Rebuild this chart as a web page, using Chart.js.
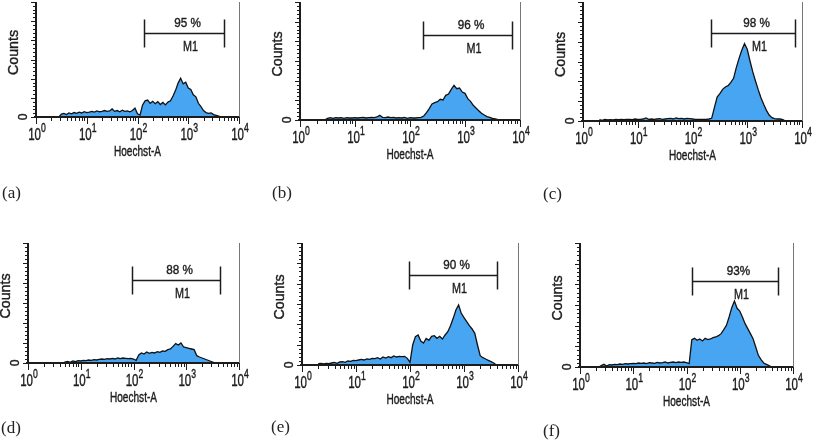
<!DOCTYPE html>
<html>
<head>
<meta charset="utf-8">
<script src="https://cdn.jsdelivr.net/npm/chart.js@4.4.1/dist/chart.umd.min.js"></script>
<style>
	html, body { margin: 0; padding: 0; background: #fff; }
	#figure { position: relative; width: 813px; height: 445px; overflow: hidden; }
	#figure canvas { position: absolute; display: block; }
	.tag { position: absolute; font: 17px "Liberation Serif", "DejaVu Serif", serif; line-height: 17px; color: #222; }
</style>
</head>
<body>
<div id="figure"></div>
<script>
// channel positions on the Hoechst-A axis, in decades (log10 of intensity)
const channels = [
	0.30, 0.35, 0.40, 0.45, 0.50, 0.55, 0.60, 0.65, 0.70, 0.75,
	0.80, 0.85, 0.90, 0.95, 1.00, 1.05, 1.10, 1.15, 1.20, 1.25,
	1.30, 1.35, 1.40, 1.45, 1.50, 1.55, 1.60, 1.65, 1.70, 1.75,
	1.80, 1.85, 1.90, 1.95, 2.00, 2.05, 2.10, 2.15, 2.20, 2.25,
	2.30, 2.35, 2.40, 2.45, 2.50, 2.55, 2.60, 2.65, 2.70, 2.75,
	2.80, 2.85, 2.90, 2.95, 3.00, 3.05, 3.10, 3.15, 3.20, 3.25,
	3.30, 3.35, 3.40, 3.45, 3.50, 3.55, 3.60, 3.65, 3.70, 3.75,
	3.80
];

// counts per channel, one array per sample (a)..(f)
const countsA = [
	0, 0, 0, 0, 7, 9, 6, 10, 8, 11,
	9, 12, 10, 13, 11, 12, 14, 12, 15, 13,
	14, 16, 14, 15, 20, 14, 16, 13, 17, 14,
	15, 13, 16, 22, 8, 5, 30, 40, 42, 34,
	39, 33, 38, 31, 36, 30, 37, 40, 52, 66,
	84, 96, 82, 86, 72, 68, 55, 50, 34, 26,
	16, 11, 9, 10, 6, 4, 2, 0, 0, 0,
	0
];
const countsB = [
	0, 0, 0, 0, 5, 7, 5, 7, 6, 7,
	5, 7, 6, 6, 7, 6, 7, 8, 6, 7,
	8, 7, 9, 14, 8, 7, 9, 7, 8, 6,
	7, 6, 8, 5, 7, 6, 6, 7, 8, 12,
	22, 34, 48, 52, 55, 62, 60, 74, 78, 92,
	104, 94, 96, 84, 80, 64, 56, 44, 36, 28,
	20, 15, 10, 8, 5, 3, 1, 0, 0, 0,
	0
];
const countsC = [
	4, 2, 5, 3, 4, 3, 5, 4, 5, 4,
	5, 5, 4, 6, 5, 5, 6, 9, 5, 6,
	5, 6, 7, 5, 6, 7, 8, 6, 9, 7,
	8, 6, 8, 7, 6, 5, 5, 5, 5, 5,
	6, 8, 40, 72, 82, 95, 102, 106, 116, 128,
	160, 188, 212, 232, 215, 180, 148, 120, 94, 70,
	50, 32, 18, 10, 7, 6, 6, 4, 0, 0,
	0
];
const countsD = [
	0, 0, 0, 0, 0, 0, 0, 0, 3, 5,
	2, 6, 4, 7, 6, 8, 7, 9, 8, 10,
	9, 11, 12, 11, 13, 12, 14, 12, 15, 13,
	15, 14, 13, 14, 12, 8, 24, 30, 27, 33,
	29, 32, 30, 34, 32, 36, 35, 40, 42, 50,
	58, 54, 60, 48, 46, 44, 42, 40, 22, 18,
	15, 12, 9, 6, 3, 0, 0, 0, 0, 0,
	0
];
const countsE = [
	4, 5, 3, 5, 4, 6, 8, 5, 9, 10,
	8, 12, 11, 14, 13, 15, 17, 15, 18, 17,
	20, 19, 22, 18, 24, 21, 25, 22, 27, 24,
	26, 25, 26, 20, 8, 60, 85, 90, 72, 66,
	80, 74, 86, 88, 80, 86, 78, 90, 100, 118,
	140, 165, 180, 155, 142, 130, 118, 108, 95, 60,
	28, 22, 18, 14, 10, 6, 0, 0, 0, 0,
	0
];
const countsF = [
	0, 0, 4, 8, 3, 7, 6, 8, 7, 9,
	8, 10, 9, 10, 11, 10, 12, 11, 12, 10,
	13, 12, 11, 14, 12, 13, 15, 12, 14, 15,
	13, 15, 14, 15, 13, 10, 82, 86, 80, 84,
	78, 86, 82, 84, 88, 90, 94, 100, 112, 125,
	150, 178, 198, 176, 168, 150, 130, 115, 100, 85,
	60, 35, 22, 12, 8, 4, 0, 0, 0, 0,
	0
];

const panelCounts = [ countsA, countsB, countsC, countsD, countsE, countsF ];
const panelTags = [ '(a)', '(b)', '(c)', '(d)', '(e)', '(f)' ];
const gatePercents = [ '95 %', '96 %', '98 %', '88 %', '90 %', '93%' ];
// M1 marker range, in decades
const gateStart = [ 2.12, 2.24, 2.33, 1.98, 1.99, 2.11 ];
const gateEnd = [ 3.70, 3.85, 3.87, 3.64, 3.61, 3.72 ];
const decades = [ 0, 1, 2, 3, 4 ];
const xTitle = 'Hoechst-A';
const yTitle = 'Counts';

( function () {
	'use strict';

	const figure = document.getElementById( 'figure' );
	const sans = '"Liberation Sans", Arial, sans-serif';
	const ink = '#1c1c1c';
	const yTickCount = 30;

	// canvas cell and plot-area padding for each panel
	const layouts = [
		{ cell: [ 0, 0, 270, 205 ], pad: { left: 36, right: 31, top: 2, bottom: 88 }, yMax: 285, gate: 0.73, tag: [ 2, 184 ] },
		{ cell: [ 270, 0, 270, 205 ], pad: { left: 30, right: 20, top: 2, bottom: 85 }, yMax: 354, gate: 0.72, tag: [ 272, 184 ] },
		{ cell: [ 540, 0, 273, 205 ], pad: { left: 43, right: 11, top: 2, bottom: 84 }, yMax: 357, gate: 0.74, tag: [ 543, 185 ] },
		{ cell: [ 0, 225, 270, 220 ], pad: { left: 28, right: 31, top: 18, bottom: 82 }, yMax: 360, gate: 0.69, tag: [ 1, 419 ] },
		{ cell: [ 270, 225, 270, 220 ], pad: { left: 32, right: 22, top: 18, bottom: 80 }, yMax: 366, gate: 0.74, tag: [ 271, 418 ] },
		{ cell: [ 540, 225, 273, 220 ], pad: { left: 40, right: 20, top: 18, bottom: 78 }, yMax: 372, gate: 0.69, tag: [ 543, 422 ] }
	];

	const line = ( ctx, x1, y1, x2, y2 ) => {
		ctx.beginPath();
		ctx.moveTo( x1, y1 );
		ctx.lineTo( x2, y2 );
		ctx.stroke();
	};

	// condensed text: squeeze horizontally around the anchor, thin outline for weight
	const text = ( ctx, str, x, y, size, squeeze, align ) => {
		ctx.save();
		ctx.translate( x, y );
		ctx.scale( squeeze, 1 );
		ctx.font = size + 'px ' + sans;
		ctx.textAlign = align || 'center';
		ctx.lineWidth = 0.4;
		ctx.strokeStyle = ink;
		ctx.fillText( str, 0, 0 );
		ctx.strokeText( str, 0, 0 );
		ctx.restore();
	};

	// axes, ticks, titles and the M1 marker, all placed through the chart scales
	const flowAxes = {
		id: 'flowAxes',
		afterDatasetsDraw( chart, args, opts ) {
			const { ctx, chartArea: area, scales: { x, y } } = chart;
			const i = opts.index;
			ctx.save();

			// right frame
			ctx.strokeStyle = '#777';
			ctx.lineWidth = 1;
			line( ctx, area.right + 0.5, area.top, area.right + 0.5, area.bottom );

			// y axis with its comb of ticks
			ctx.strokeStyle = ink;
			ctx.lineWidth = 2;
			line( ctx, area.left, area.top, area.left, area.bottom + 1 );
			ctx.lineWidth = 1;
			for ( let k = 0; k <= yTickCount; k++ ) {
				const py = Math.round( y.getPixelForValue( y.max * k / yTickCount ) ) + 0.5;
				const len = k % 5 === 0 ? 5 : 3;
				line( ctx, area.left - len, py, area.left, py );
			}

			// x axis, log decades with minor ticks
			ctx.lineWidth = 2;
			line( ctx, area.left - 2, area.bottom, area.right, area.bottom );
			ctx.lineWidth = 1;
			decades.forEach( ( d ) => {
				const px = Math.round( x.getPixelForValue( d ) ) + 0.5;
				line( ctx, px, area.bottom, px, area.bottom + 7 );
				if ( d < 4 ) {
					for ( let m = 2; m < 10; m++ ) {
						const mx = Math.round( x.getPixelForValue( d + Math.log10( m ) ) ) + 0.5;
						line( ctx, mx, area.bottom, mx, area.bottom + 4 );
					}
				}
			} );

			// 10^n tick labels
			ctx.fillStyle = ink;
			ctx.textBaseline = 'middle';
			decades.forEach( ( d ) => {
				const px = x.getPixelForValue( d );
				ctx.font = '16px ' + sans;
				const w1 = ctx.measureText( '10' ).width * 0.72;
				ctx.font = '12px ' + sans;
				const w2 = ctx.measureText( String( d ) ).width * 0.72;
				const sx = px - ( w1 + w2 ) / 2 + 1;
				text( ctx, '10', sx, area.bottom + 19, 16, 0.72, 'left' );
				text( ctx, String( d ), sx + w1, area.bottom + 12, 12, 0.72, 'left' );
			} );

			// axis titles
			text( ctx, xTitle, ( area.left + area.right ) / 2, area.bottom + 35, 14, 0.72 );

			ctx.save();
			ctx.translate( area.left - 22, ( area.top + area.bottom ) / 2 - 7 );
			ctx.rotate( -Math.PI / 2 );
			text( ctx, yTitle, 0, 0, 15, 0.95 );
			ctx.restore();

			ctx.save();
			ctx.translate( area.left - 12, area.bottom );
			ctx.rotate( -Math.PI / 2 );
			text( ctx, '0', 0, 0, 12, 1 );
			ctx.restore();

			// M1 marker
			const gy = Math.round( y.getPixelForValue( opts.gate * y.max ) ) + 0.5;
			const gx1 = Math.round( x.getPixelForValue( gateStart[ i ] ) ) + 0.5;
			const gx2 = Math.round( x.getPixelForValue( gateEnd[ i ] ) ) + 0.5;
			ctx.strokeStyle = ink;
			ctx.lineWidth = 1.5;
			line( ctx, gx1, gy, gx2, gy );
			line( ctx, gx1, gy - 14, gx1, gy + 14 );
			line( ctx, gx2, gy - 14, gx2, gy + 14 );
			const mid = ( gx1 + gx2 ) / 2;
			text( ctx, gatePercents[ i ], mid + 3, gy - 10, 13, 0.9 );
			text( ctx, 'M1', mid + 6, gy + 13, 15, 0.72 );

			ctx.restore();
		}
	};

	layouts.forEach( ( lay, i ) => {
		const [ left, top, width, height ] = lay.cell;
		const canvas = document.createElement( 'canvas' );
		canvas.width = width;
		canvas.height = height;
		canvas.style.left = left + 'px';
		canvas.style.top = top + 'px';
		canvas.style.width = width + 'px';
		canvas.style.height = height + 'px';
		figure.appendChild( canvas );

		const counts = panelCounts[ i ];
		new Chart( canvas, {
			type: 'line',
			data: {
				datasets: [ {
					label: 'Counts',
					data: channels.map( ( c, k ) => ( { x: c, y: counts[ k ] } ) ),
					borderColor: '#111',
					borderWidth: 1.3,
					backgroundColor: '#48a5f2',
					fill: 'origin',
					pointRadius: 0,
					tension: 0
				} ]
			},
			options: {
				responsive: false,
				animation: false,
				devicePixelRatio: 1,
				events: [],
				layout: { padding: lay.pad },
				plugins: {
					legend: { display: false },
					tooltip: { enabled: false },
					flowAxes: { index: i, gate: lay.gate }
				},
				scales: {
					x: { type: 'linear', min: 0, max: 4, display: false },
					y: { min: 0, max: lay.yMax, display: false }
				}
			},
			plugins: [ flowAxes ]
		} );

		const tag = document.createElement( 'div' );
		tag.className = 'tag';
		tag.textContent = panelTags[ i ];
		tag.style.left = lay.tag[ 0 ] + 'px';
		tag.style.top = lay.tag[ 1 ] + 'px';
		figure.appendChild( tag );
	} );
})();
</script>
</body>
</html>
